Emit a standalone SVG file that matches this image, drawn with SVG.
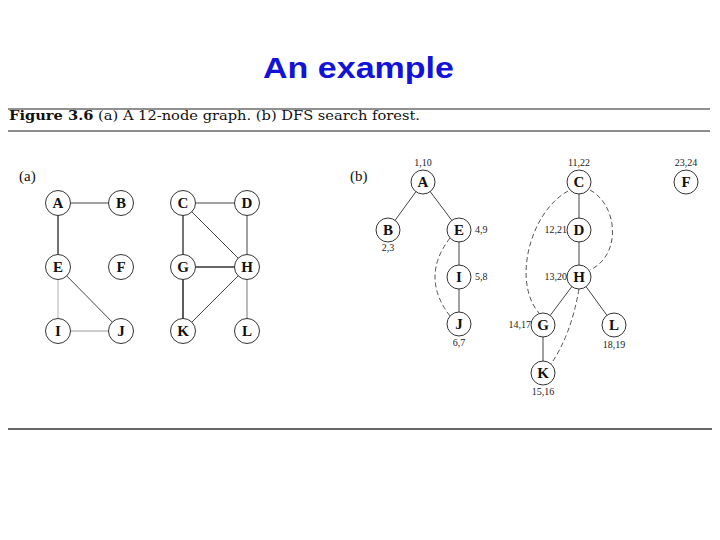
<svg xmlns="http://www.w3.org/2000/svg" width="720" height="540" viewBox="0 0 720 540">
<style>
.title{font-family:"Liberation Sans",Arial,sans-serif;font-weight:bold;font-size:30px;fill:#1212d8}
.cap{font-family:"DejaVu Serif","Liberation Serif",serif;font-size:13px;fill:#111}
.lab{font-family:"Liberation Serif","DejaVu Serif",serif;font-weight:bold;font-size:15px;fill:#111;text-anchor:middle}
.num{font-family:"Liberation Serif","DejaVu Serif",serif;font-size:10px;fill:#222}
.pl{font-family:"Liberation Serif","DejaVu Serif",serif;font-size:15px;fill:#111}
.n circle{fill:#fff;stroke:#333;stroke-width:1}
.e line{stroke:#444;stroke-width:1}
.d path{fill:none;stroke:#555;stroke-width:1;stroke-dasharray:5,3}
</style>
<text class="title" x="263" y="78" textLength="191" lengthAdjust="spacingAndGlyphs">An example</text>
<line x1="8" y1="109" x2="710" y2="109" stroke="#222" stroke-width="1.2"/>
<text class="cap" x="9" y="120" textLength="411" lengthAdjust="spacingAndGlyphs"><tspan font-weight="bold">Figure 3.6</tspan> (a) A 12-node graph. (b) DFS search forest.</text>
<line x1="8" y1="131" x2="710" y2="131" stroke="#666" stroke-width="1.5"/>
<line x1="8" y1="429" x2="712" y2="429" stroke="#333" stroke-width="1.5"/>
<text class="pl" x="19" y="181">(a)</text>
<text class="pl" x="350" y="181">(b)</text>
<g id="edges-a" class="e">
<line x1="58" y1="203" x2="121" y2="203"/>
<line x1="58" y1="203" x2="58" y2="267" style="stroke-width:1.5"/>
<line x1="58" y1="267" x2="58" y2="331" style="stroke:#ccc;stroke-width:1.5"/>
<line x1="58" y1="331" x2="121" y2="331" style="stroke:#ccc;stroke-width:2"/>
<line x1="58" y1="267" x2="121" y2="331"/>
<line x1="183" y1="203" x2="247" y2="203"/>
<line x1="183" y1="203" x2="183" y2="267" style="stroke-width:1.5"/>
<line x1="183" y1="203" x2="247" y2="267"/>
<line x1="247" y1="203" x2="247" y2="267"/>
<line x1="183" y1="267" x2="247" y2="267" style="stroke-width:1.6;stroke:#333"/>
<line x1="183" y1="267" x2="183" y2="331" style="stroke-width:1.6;stroke:#333"/>
<line x1="247" y1="267" x2="183" y2="331"/>
<line x1="247" y1="267" x2="247" y2="331" style="stroke:#777"/>
</g>
<g id="edges-b">
<g class="e">
<line x1="423" y1="182" x2="388" y2="230"/>
<line x1="423" y1="182" x2="459" y2="230"/>
<line x1="459" y1="230" x2="459" y2="277"/>
<line x1="459" y1="277" x2="459" y2="324"/>
<line x1="579" y1="182" x2="579" y2="230"/>
<line x1="579" y1="230" x2="579" y2="277"/>
<line x1="579" y1="277" x2="543" y2="325"/>
<line x1="579" y1="277" x2="614" y2="325"/>
<line x1="543" y1="325" x2="543" y2="373"/>
</g>
<g class="d">
<path d="M450,238 Q420,277 450,316"/>
<path d="M568,191 C530,212 512,282 539,313"/>
<path d="M590,190 C618,205 622,255 590,270"/>
<path d="M579,289 Q571,335 551,364"/>
</g>
</g>
<g id="a-A" class="n"><circle cx="58" cy="203" r="12.5"/><text class="lab" x="58" y="208">A</text></g>
<g id="a-B" class="n"><circle cx="121" cy="203" r="12.5"/><text class="lab" x="121" y="208">B</text></g>
<g id="a-C" class="n"><circle cx="183" cy="203" r="12.5"/><text class="lab" x="183" y="208">C</text></g>
<g id="a-D" class="n"><circle cx="247" cy="203" r="12.5"/><text class="lab" x="247" y="208">D</text></g>
<g id="a-E" class="n"><circle cx="58" cy="267" r="12.5"/><text class="lab" x="58" y="272">E</text></g>
<g id="a-F" class="n"><circle cx="121" cy="267" r="12.5"/><text class="lab" x="121" y="272">F</text></g>
<g id="a-G" class="n"><circle cx="183" cy="267" r="12.5"/><text class="lab" x="183" y="272">G</text></g>
<g id="a-H" class="n"><circle cx="247" cy="267" r="12.5"/><text class="lab" x="247" y="272">H</text></g>
<g id="a-I" class="n"><circle cx="58" cy="331" r="12.5"/><text class="lab" x="58" y="336">I</text></g>
<g id="a-J" class="n"><circle cx="121" cy="331" r="12.5"/><text class="lab" x="121" y="336">J</text></g>
<g id="a-K" class="n"><circle cx="183" cy="331" r="12.5"/><text class="lab" x="183" y="336">K</text></g>
<g id="a-L" class="n"><circle cx="247" cy="331" r="12.5"/><text class="lab" x="247" y="336">L</text></g>
<g id="b-A" class="n"><circle cx="423" cy="182" r="12"/><text class="lab" x="423" y="187">A</text><text class="num" x="423" y="166" text-anchor="middle">1,10</text></g>
<g id="b-B" class="n"><circle cx="388" cy="230" r="12"/><text class="lab" x="388" y="235">B</text><text class="num" x="388" y="251" text-anchor="middle">2,3</text></g>
<g id="b-E" class="n"><circle cx="459" cy="230" r="12"/><text class="lab" x="459" y="235">E</text><text class="num" x="475" y="233">4,9</text></g>
<g id="b-I" class="n"><circle cx="459" cy="277" r="12"/><text class="lab" x="459" y="282">I</text><text class="num" x="475" y="280">5,8</text></g>
<g id="b-J" class="n"><circle cx="459" cy="324" r="12"/><text class="lab" x="459" y="329">J</text><text class="num" x="459" y="346" text-anchor="middle">6,7</text></g>
<g id="b-C" class="n"><circle cx="579" cy="182" r="12"/><text class="lab" x="579" y="187">C</text><text class="num" x="579" y="166" text-anchor="middle">11,22</text></g>
<g id="b-D" class="n"><circle cx="579" cy="230" r="12"/><text class="lab" x="579" y="235">D</text><text class="num" x="567" y="233" text-anchor="end">12,21</text></g>
<g id="b-H" class="n"><circle cx="579" cy="277" r="12"/><text class="lab" x="579" y="282">H</text><text class="num" x="567" y="280" text-anchor="end">13,20</text></g>
<g id="b-G" class="n"><circle cx="543" cy="325" r="12"/><text class="lab" x="543" y="330">G</text><text class="num" x="531" y="328" text-anchor="end">14,17</text></g>
<g id="b-L" class="n"><circle cx="614" cy="325" r="12"/><text class="lab" x="614" y="330">L</text><text class="num" x="614" y="348" text-anchor="middle">18,19</text></g>
<g id="b-K" class="n"><circle cx="543" cy="373" r="12"/><text class="lab" x="543" y="378">K</text><text class="num" x="543" y="395" text-anchor="middle">15,16</text></g>
<g id="b-F" class="n"><circle cx="686" cy="182" r="12"/><text class="lab" x="686" y="187">F</text><text class="num" x="686" y="166" text-anchor="middle">23,24</text></g>
</svg>
